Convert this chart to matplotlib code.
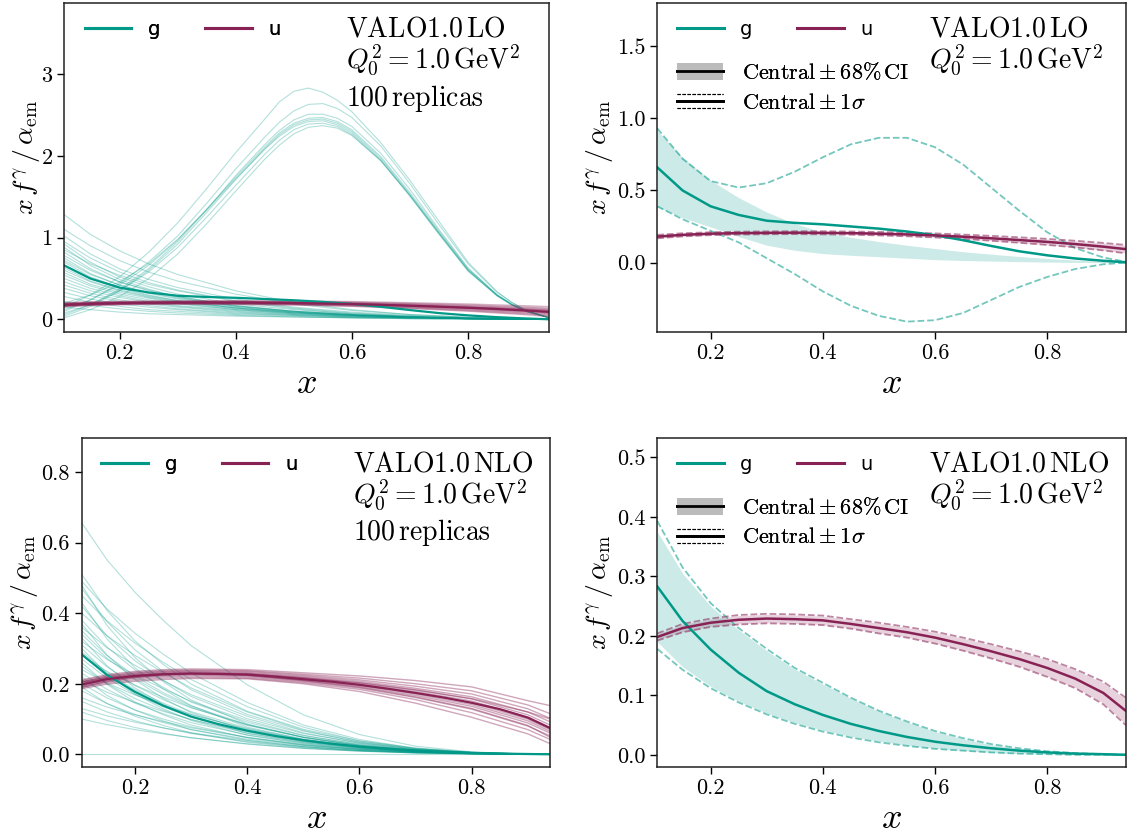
import numpy as np
import matplotlib
matplotlib.use("Agg")
import matplotlib.pyplot as plt
from matplotlib.lines import Line2D
from matplotlib.patches import Rectangle, Patch
from matplotlib.legend_handler import HandlerBase

# ---------------- data ----------------
X18 = [0.105, 0.15, 0.2, 0.25, 0.3, 0.35, 0.4, 0.45, 0.5, 0.55, 0.6, 0.65, 0.7, 0.75, 0.8, 0.85, 0.9, 0.94]
X12 = [0.105, 0.15, 0.2, 0.25, 0.3, 0.4, 0.5, 0.6, 0.7, 0.8, 0.9, 0.94]
XB = [0.105, 0.15, 0.2, 0.25, 0.3, 0.35, 0.4, 0.45, 0.475, 0.5, 0.525, 0.55, 0.575, 0.6, 0.65, 0.7, 0.75, 0.8, 0.85, 0.875, 0.9, 0.94]

# LO central / uncertainties (X18)
g_lo_central = [0.66, 0.50, 0.39, 0.33, 0.29, 0.275, 0.265, 0.25, 0.235, 0.215, 0.19, 0.155, 0.115, 0.078, 0.05, 0.028, 0.012, 0.002]
g_lo_sig_hi = [0.93, 0.72, 0.565, 0.52, 0.55, 0.63, 0.73, 0.82, 0.865, 0.865, 0.80, 0.68, 0.52, 0.36, 0.21, 0.10, 0.035, 0.005]
g_lo_sig_lo = [0.39, 0.30, 0.22, 0.14, 0.03, -0.08, -0.20, -0.30, -0.37, -0.41, -0.40, -0.35, -0.26, -0.17, -0.10, -0.045, -0.012, -0.001]
g_lo_ci_hi = [0.915, 0.73, 0.57, 0.45, 0.35, 0.27, 0.21, 0.175, 0.145, 0.12, 0.097, 0.075, 0.058, 0.042, 0.028, 0.017, 0.008, 0.003]
g_lo_ci_lo = [0.385, 0.31, 0.247, 0.18, 0.12, 0.085, 0.062, 0.05, 0.04, 0.03, 0.02, 0.014, 0.01, 0.006, 0.003, 0.001, 0.0, 0.0]

u_lo_central = [0.180, 0.192, 0.200, 0.204, 0.206, 0.207, 0.206, 0.204, 0.200, 0.195, 0.188, 0.179, 0.168, 0.156, 0.143, 0.128, 0.110, 0.093]
u_lo_sig_hi = [0.192, 0.203, 0.210, 0.214, 0.216, 0.217, 0.217, 0.215, 0.212, 0.208, 0.202, 0.194, 0.185, 0.175, 0.164, 0.151, 0.136, 0.122]
u_lo_sig_lo = [0.168, 0.181, 0.190, 0.194, 0.196, 0.197, 0.195, 0.193, 0.188, 0.182, 0.174, 0.164, 0.151, 0.137, 0.122, 0.105, 0.084, 0.064]
u_lo_ci_hi = [0.191, 0.202, 0.209, 0.213, 0.215, 0.216, 0.216, 0.214, 0.211, 0.207, 0.201, 0.193, 0.184, 0.174, 0.163, 0.150, 0.135, 0.120]
u_lo_ci_lo = [0.169, 0.182, 0.191, 0.195, 0.197, 0.198, 0.196, 0.194, 0.189, 0.183, 0.175, 0.165, 0.152, 0.138, 0.123, 0.106, 0.086, 0.066]

# NLO central / uncertainties (X18)
g_nlo_central = [0.283, 0.225, 0.177, 0.138, 0.107, 0.085, 0.067, 0.052, 0.040, 0.030, 0.022, 0.016, 0.011, 0.007, 0.004, 0.002, 0.001, 0.000]
g_nlo_sig_hi = [0.393, 0.315, 0.255, 0.213, 0.178, 0.146, 0.121, 0.096, 0.074, 0.056, 0.040, 0.028, 0.018, 0.011, 0.006, 0.003, 0.001, 0.0]
g_nlo_sig_lo = [0.178, 0.143, 0.112, 0.088, 0.068, 0.052, 0.039, 0.029, 0.021, 0.015, 0.010, 0.007, 0.004, 0.002, 0.001, 0.0, 0.0, 0.0]
g_nlo_ci_hi = [0.375, 0.305, 0.25, 0.21, 0.175, 0.144, 0.119, 0.095, 0.073, 0.055, 0.039, 0.027, 0.017, 0.011, 0.006, 0.003, 0.001, 0.0]
g_nlo_ci_lo = [0.19, 0.148, 0.115, 0.09, 0.07, 0.054, 0.041, 0.031, 0.023, 0.016, 0.011, 0.007, 0.004, 0.002, 0.001, 0.0, 0.0, 0.0]

u_nlo_central = [0.198, 0.213, 0.222, 0.227, 0.229, 0.228, 0.226, 0.220, 0.213, 0.206, 0.197, 0.186, 0.174, 0.161, 0.146, 0.128, 0.104, 0.074]
u_nlo_sig_hi = [0.204, 0.220, 0.229, 0.235, 0.237, 0.236, 0.234, 0.228, 0.222, 0.215, 0.207, 0.197, 0.186, 0.174, 0.161, 0.144, 0.123, 0.096]
u_nlo_sig_lo = [0.192, 0.206, 0.215, 0.219, 0.221, 0.220, 0.218, 0.212, 0.204, 0.197, 0.187, 0.175, 0.162, 0.148, 0.131, 0.112, 0.085, 0.050]
u_nlo_ci_hi = [0.203, 0.219, 0.228, 0.234, 0.236, 0.235, 0.233, 0.227, 0.221, 0.214, 0.206, 0.196, 0.185, 0.173, 0.160, 0.143, 0.121, 0.094]
u_nlo_ci_lo = [0.193, 0.207, 0.216, 0.220, 0.222, 0.221, 0.219, 0.213, 0.205, 0.198, 0.188, 0.176, 0.163, 0.149, 0.132, 0.113, 0.087, 0.052]

# LO replicas: gluon "bump" replicas (XB)
g_lo_bump_reps = [
    [0.15, 0.30, 0.52, 0.82, 1.18, 1.60, 2.04, 2.45, 2.66, 2.79, 2.83, 2.78, 2.68, 2.54, 2.16, 1.70, 1.20, 0.70, 0.34, 0.21, 0.11, 0.02],
    [0.10, 0.24, 0.44, 0.70, 1.02, 1.42, 1.84, 2.23, 2.41, 2.55, 2.63, 2.64, 2.58, 2.47, 2.12, 1.66, 1.16, 0.68, 0.33, 0.21, 0.11, 0.02],
    [0.06, 0.18, 0.37, 0.62, 0.95, 1.34, 1.76, 2.14, 2.31, 2.44, 2.51, 2.51, 2.46, 2.36, 2.03, 1.59, 1.10, 0.63, 0.30, 0.19, 0.10, 0.02],
    [0.12, 0.24, 0.42, 0.66, 0.97, 1.35, 1.74, 2.11, 2.28, 2.40, 2.46, 2.47, 2.42, 2.32, 1.99, 1.55, 1.08, 0.62, 0.30, 0.18, 0.10, 0.02],
    [0.04, 0.16, 0.35, 0.60, 0.92, 1.31, 1.71, 2.09, 2.26, 2.38, 2.44, 2.45, 2.40, 2.30, 1.97, 1.53, 1.06, 0.60, 0.29, 0.18, 0.10, 0.02],
    [0.20, 0.30, 0.46, 0.68, 0.98, 1.34, 1.72, 2.08, 2.24, 2.36, 2.42, 2.43, 2.38, 2.28, 1.95, 1.51, 1.04, 0.59, 0.29, 0.18, 0.10, 0.02],
    [0.08, 0.18, 0.35, 0.58, 0.88, 1.25, 1.64, 2.02, 2.19, 2.32, 2.39, 2.40, 2.36, 2.26, 1.94, 1.51, 1.05, 0.60, 0.29, 0.18, 0.10, 0.02],
    [0.02, 0.12, 0.28, 0.50, 0.80, 1.17, 1.57, 1.96, 2.13, 2.27, 2.35, 2.37, 2.34, 2.25, 1.94, 1.52, 1.06, 0.61, 0.30, 0.19, 0.11, 0.02],
]
# LO replicas: decaying gluon replicas (X12)
g_lo_decay_reps = [
    [1.28, 1.04, 0.84, 0.68, 0.55, 0.35, 0.21, 0.12, 0.06, 0.025, 0.007, 0.0],
    [1.10, 0.90, 0.72, 0.58, 0.47, 0.31, 0.19, 0.11, 0.06, 0.03, 0.01, 0.0],
    [1.02, 0.80, 0.62, 0.49, 0.39, 0.25, 0.15, 0.09, 0.05, 0.02, 0.005, 0.0],
    [0.95, 0.75, 0.58, 0.45, 0.36, 0.23, 0.14, 0.08, 0.04, 0.02, 0.005, 0.0],
    [0.92, 0.70, 0.52, 0.40, 0.31, 0.19, 0.12, 0.07, 0.04, 0.02, 0.005, 0.0],
    [0.88, 0.66, 0.49, 0.37, 0.28, 0.17, 0.10, 0.06, 0.03, 0.015, 0.004, 0.0],
    [0.85, 0.68, 0.54, 0.43, 0.35, 0.22, 0.13, 0.07, 0.04, 0.02, 0.005, 0.0],
    [0.82, 0.62, 0.46, 0.35, 0.27, 0.16, 0.10, 0.06, 0.03, 0.015, 0.004, 0.0],
    [0.78, 0.60, 0.46, 0.36, 0.28, 0.17, 0.10, 0.06, 0.03, 0.01, 0.003, 0.0],
    [0.75, 0.56, 0.42, 0.32, 0.25, 0.15, 0.09, 0.05, 0.03, 0.01, 0.003, 0.0],
    [0.72, 0.55, 0.42, 0.33, 0.26, 0.16, 0.10, 0.06, 0.03, 0.015, 0.004, 0.0],
    [0.70, 0.52, 0.39, 0.30, 0.23, 0.14, 0.08, 0.05, 0.03, 0.01, 0.003, 0.0],
    [0.66, 0.50, 0.38, 0.29, 0.23, 0.14, 0.09, 0.05, 0.03, 0.01, 0.003, 0.0],
    [0.63, 0.47, 0.36, 0.28, 0.22, 0.14, 0.09, 0.05, 0.03, 0.01, 0.003, 0.0],
    [0.60, 0.46, 0.35, 0.27, 0.21, 0.13, 0.08, 0.05, 0.03, 0.01, 0.003, 0.0],
    [0.57, 0.43, 0.33, 0.26, 0.20, 0.12, 0.08, 0.05, 0.03, 0.01, 0.003, 0.0],
    [0.54, 0.41, 0.31, 0.24, 0.19, 0.12, 0.07, 0.04, 0.02, 0.01, 0.003, 0.0],
    [0.50, 0.38, 0.29, 0.22, 0.17, 0.11, 0.07, 0.04, 0.02, 0.01, 0.002, 0.0],
    [0.46, 0.35, 0.27, 0.21, 0.16, 0.10, 0.06, 0.04, 0.02, 0.01, 0.002, 0.0],
    [0.42, 0.32, 0.24, 0.19, 0.15, 0.09, 0.06, 0.03, 0.02, 0.01, 0.002, 0.0],
    [0.38, 0.29, 0.22, 0.17, 0.13, 0.08, 0.05, 0.03, 0.02, 0.01, 0.002, 0.0],
    [0.33, 0.25, 0.19, 0.15, 0.12, 0.07, 0.05, 0.03, 0.02, 0.01, 0.002, 0.0],
    [0.28, 0.21, 0.16, 0.12, 0.10, 0.06, 0.04, 0.02, 0.01, 0.005, 0.001, 0.0],
    [0.22, 0.17, 0.13, 0.10, 0.08, 0.05, 0.03, 0.02, 0.01, 0.005, 0.001, 0.0],
    [0.15, 0.12, 0.09, 0.07, 0.06, 0.04, 0.03, 0.02, 0.01, 0.005, 0.001, 0.0],
]
# LO replicas: u quark (X12)
u_lo_reps = [
    [0.156, 0.170, 0.180, 0.184, 0.186, 0.184, 0.176, 0.160, 0.134, 0.101, 0.058, 0.035],
    [0.161, 0.174, 0.184, 0.188, 0.190, 0.188, 0.181, 0.166, 0.141, 0.109, 0.068, 0.047],
    [0.166, 0.179, 0.188, 0.192, 0.194, 0.193, 0.186, 0.171, 0.148, 0.118, 0.079, 0.058],
    [0.170, 0.183, 0.192, 0.196, 0.198, 0.197, 0.190, 0.177, 0.154, 0.126, 0.089, 0.070],
    [0.175, 0.188, 0.196, 0.200, 0.202, 0.202, 0.195, 0.182, 0.161, 0.135, 0.100, 0.081],
    [0.180, 0.192, 0.200, 0.204, 0.206, 0.206, 0.200, 0.188, 0.168, 0.143, 0.110, 0.093],
    [0.185, 0.196, 0.204, 0.208, 0.210, 0.210, 0.205, 0.194, 0.175, 0.151, 0.120, 0.105],
    [0.190, 0.201, 0.208, 0.212, 0.214, 0.215, 0.210, 0.199, 0.182, 0.160, 0.131, 0.116],
    [0.194, 0.205, 0.212, 0.216, 0.218, 0.219, 0.214, 0.205, 0.188, 0.168, 0.141, 0.128],
    [0.199, 0.210, 0.216, 0.220, 0.222, 0.224, 0.219, 0.210, 0.195, 0.177, 0.152, 0.139],
    [0.206, 0.216, 0.222, 0.226, 0.228, 0.230, 0.226, 0.219, 0.205, 0.189, 0.167, 0.157],
    [0.170, 0.186, 0.198, 0.205, 0.209, 0.211, 0.206, 0.193, 0.170, 0.140, 0.100, 0.080],
    [0.188, 0.197, 0.203, 0.205, 0.206, 0.204, 0.197, 0.186, 0.170, 0.150, 0.125, 0.112],
]

# NLO replicas: gluon (X12)
g_nlo_reps = [
    [0.656, 0.551, 0.459, 0.380, 0.308, 0.197, 0.112, 0.056, 0.023, 0.007, 0.001, 0.0],
    [0.51, 0.408, 0.321, 0.255, 0.199, 0.122, 0.071, 0.038, 0.018, 0.006, 0.001, 0.0],
    [0.49, 0.412, 0.343, 0.284, 0.230, 0.147, 0.083, 0.042, 0.017, 0.005, 0.001, 0.0],
    [0.48, 0.365, 0.274, 0.206, 0.154, 0.086, 0.048, 0.024, 0.011, 0.004, 0.0, 0.0],
    [0.47, 0.376, 0.296, 0.235, 0.183, 0.113, 0.066, 0.035, 0.016, 0.006, 0.001, 0.0],
    [0.45, 0.378, 0.315, 0.261, 0.212, 0.135, 0.077, 0.038, 0.016, 0.005, 0.001, 0.0],
    [0.43, 0.327, 0.245, 0.185, 0.138, 0.077, 0.043, 0.022, 0.009, 0.003, 0.0, 0.0],
    [0.42, 0.336, 0.265, 0.210, 0.164, 0.101, 0.059, 0.032, 0.015, 0.005, 0.001, 0.0],
    [0.40, 0.336, 0.280, 0.232, 0.188, 0.120, 0.068, 0.034, 0.014, 0.004, 0.001, 0.0],
    [0.38, 0.304, 0.239, 0.190, 0.148, 0.091, 0.053, 0.029, 0.013, 0.005, 0.001, 0.0],
    [0.37, 0.281, 0.211, 0.159, 0.118, 0.067, 0.037, 0.019, 0.008, 0.003, 0.0, 0.0],
    [0.36, 0.302, 0.252, 0.209, 0.169, 0.108, 0.061, 0.031, 0.013, 0.004, 0.001, 0.0],
    [0.35, 0.280, 0.221, 0.175, 0.137, 0.084, 0.049, 0.026, 0.012, 0.004, 0.001, 0.0],
    [0.34, 0.272, 0.214, 0.170, 0.133, 0.082, 0.048, 0.026, 0.012, 0.004, 0.001, 0.0],
    [0.33, 0.251, 0.188, 0.142, 0.106, 0.059, 0.033, 0.017, 0.007, 0.003, 0.0, 0.0],
    [0.32, 0.269, 0.224, 0.186, 0.150, 0.096, 0.054, 0.027, 0.011, 0.004, 0.001, 0.0],
    [0.31, 0.248, 0.195, 0.155, 0.121, 0.074, 0.043, 0.023, 0.011, 0.004, 0.001, 0.0],
    [0.30, 0.228, 0.171, 0.129, 0.096, 0.054, 0.030, 0.015, 0.007, 0.002, 0.0, 0.0],
    [0.29, 0.232, 0.183, 0.145, 0.113, 0.070, 0.041, 0.022, 0.010, 0.003, 0.001, 0.0],
    [0.28, 0.235, 0.196, 0.162, 0.132, 0.084, 0.048, 0.024, 0.010, 0.003, 0.001, 0.0],
    [0.27, 0.216, 0.170, 0.135, 0.105, 0.065, 0.038, 0.020, 0.009, 0.003, 0.001, 0.0],
    [0.26, 0.198, 0.148, 0.112, 0.083, 0.047, 0.026, 0.013, 0.006, 0.002, 0.0, 0.0],
    [0.25, 0.200, 0.158, 0.125, 0.098, 0.060, 0.035, 0.019, 0.009, 0.003, 0.001, 0.0],
    [0.24, 0.202, 0.168, 0.139, 0.113, 0.072, 0.041, 0.020, 0.008, 0.003, 0.0, 0.0],
    [0.23, 0.184, 0.145, 0.115, 0.090, 0.055, 0.032, 0.017, 0.008, 0.003, 0.0, 0.0],
    [0.22, 0.167, 0.125, 0.095, 0.070, 0.040, 0.022, 0.011, 0.005, 0.002, 0.0, 0.0],
    [0.21, 0.176, 0.147, 0.122, 0.099, 0.063, 0.036, 0.018, 0.007, 0.002, 0.0, 0.0],
    [0.20, 0.160, 0.126, 0.100, 0.078, 0.048, 0.028, 0.015, 0.007, 0.002, 0.0, 0.0],
    [0.19, 0.144, 0.108, 0.082, 0.061, 0.034, 0.019, 0.010, 0.004, 0.002, 0.0, 0.0],
    [0.18, 0.144, 0.113, 0.090, 0.070, 0.043, 0.025, 0.014, 0.006, 0.002, 0.0, 0.0],
    [0.16, 0.134, 0.112, 0.093, 0.075, 0.048, 0.027, 0.014, 0.006, 0.002, 0.0, 0.0],
    [0.15, 0.120, 0.095, 0.075, 0.059, 0.036, 0.021, 0.011, 0.005, 0.002, 0.0, 0.0],
    [0.13, 0.109, 0.091, 0.075, 0.061, 0.039, 0.022, 0.011, 0.005, 0.001, 0.0, 0.0],
    [0.12, 0.096, 0.076, 0.060, 0.047, 0.029, 0.017, 0.009, 0.004, 0.001, 0.0, 0.0],
    [0.10, 0.084, 0.070, 0.058, 0.047, 0.030, 0.017, 0.009, 0.004, 0.001, 0.0, 0.0],
    [0.0, 0.0, 0.0, 0.0, 0.0, 0.0, 0.0, 0.0, 0.0, 0.0, 0.0, 0.0],
]
# NLO replicas: u quark (X12)
u_nlo_reps = [
    [0.186, 0.199, 0.207, 0.212, 0.215, 0.214, 0.200, 0.178, 0.145, 0.105, 0.058, 0.030],
    [0.189, 0.203, 0.211, 0.216, 0.218, 0.216, 0.203, 0.184, 0.155, 0.118, 0.070, 0.042],
    [0.192, 0.206, 0.215, 0.220, 0.222, 0.219, 0.206, 0.188, 0.161, 0.128, 0.080, 0.052],
    [0.194, 0.209, 0.218, 0.223, 0.225, 0.222, 0.209, 0.192, 0.167, 0.136, 0.089, 0.060],
    [0.196, 0.211, 0.220, 0.225, 0.227, 0.224, 0.211, 0.195, 0.171, 0.141, 0.095, 0.065],
    [0.198, 0.213, 0.222, 0.227, 0.229, 0.226, 0.213, 0.197, 0.174, 0.146, 0.100, 0.070],
    [0.200, 0.215, 0.224, 0.229, 0.231, 0.228, 0.216, 0.200, 0.178, 0.151, 0.106, 0.076],
    [0.202, 0.217, 0.226, 0.231, 0.233, 0.230, 0.218, 0.203, 0.182, 0.157, 0.112, 0.083],
    [0.204, 0.219, 0.228, 0.233, 0.235, 0.232, 0.221, 0.207, 0.187, 0.163, 0.120, 0.092],
    [0.206, 0.221, 0.230, 0.235, 0.237, 0.235, 0.224, 0.211, 0.193, 0.171, 0.129, 0.102],
    [0.208, 0.223, 0.232, 0.237, 0.239, 0.237, 0.227, 0.216, 0.200, 0.180, 0.140, 0.115],
    [0.211, 0.226, 0.235, 0.240, 0.242, 0.240, 0.231, 0.222, 0.209, 0.191, 0.152, 0.138],
    [0.190, 0.207, 0.218, 0.225, 0.229, 0.228, 0.217, 0.203, 0.183, 0.158, 0.120, 0.100],
    [0.205, 0.217, 0.224, 0.228, 0.229, 0.224, 0.209, 0.190, 0.163, 0.130, 0.082, 0.048],
]

x_ticks = [0.2, 0.4, 0.6, 0.8]
titles_lo = [r"$\mathrm{VALO1.0\,LO}$", r"$Q_0^2 = 1.0\,\mathrm{GeV}^2$"]
titles_nlo = [r"$\mathrm{VALO1.0\,NLO}$", r"$Q_0^2 = 1.0\,\mathrm{GeV}^2$"]
replica_text = r"$100\,\mathrm{replicas}$"
ci_labels = [r"$\mathrm{Central} \pm 68\%\,\mathrm{CI}$", r"$\mathrm{Central} \pm 1\sigma$"]

# ---------------- style ----------------
plt.rcParams["mathtext.fontset"] = "cm"
plt.rcParams["font.family"] = "serif"
plt.rcParams["font.serif"] = ["cmr10"]
plt.rcParams["axes.unicode_minus"] = False
plt.rcParams["axes.linewidth"] = 1.1
plt.rcParams["axes.edgecolor"] = "#222222"

TEAL = "#009988"
WINE = "#882255"
TICK_FS = 16
LABEL_FS = 20
TEXT_FS = 20

fig = plt.figure(figsize=(11.29, 8.36), dpi=100)
ax_tl = fig.add_axes([0.0570, 0.6032, 0.4296, 0.3932])
ax_tr = fig.add_axes([0.5822, 0.6032, 0.4149, 0.3932])
ax_bl = fig.add_axes([0.0724, 0.0829, 0.4150, 0.3935])
ax_br = fig.add_axes([0.5822, 0.0829, 0.4149, 0.3935])


class BandLineHandler(HandlerBase):
    def create_artists(self, legend, orig_handle, xdescent, ydescent, width, height, fontsize, trans):
        x0, y0 = -xdescent, -ydescent
        rect = Rectangle((x0, y0 - 0.05 * height), width, 1.1 * height,
                         facecolor="#bbbbbb", edgecolor="none", transform=trans)
        line = Line2D([x0, x0 + width], [y0 + height / 2] * 2, color="k", lw=2.0, transform=trans)
        return [rect, line]


class TripleLineHandler(HandlerBase):
    def create_artists(self, legend, orig_handle, xdescent, ydescent, width, height, fontsize, trans):
        x0, y0 = -xdescent, -ydescent
        yc = y0 + height / 2
        d = 0.45 * height
        top = Line2D([x0, x0 + width], [yc + d] * 2, color="k", lw=0.8, ls=(0, (3, 1.5)), transform=trans)
        mid = Line2D([x0, x0 + width], [yc] * 2, color="k", lw=2.0, transform=trans)
        bot = Line2D([x0, x0 + width], [yc - d] * 2, color="k", lw=0.8, ls=(0, (3, 1.5)), transform=trans)
        return [top, mid, bot]


def style_axis(ax, ylim, ylabel_x):
    ax.set_xlim(0.105, 0.94)
    ax.set_ylim(*ylim)
    ax.set_xticks(x_ticks)
    ax.tick_params(labelsize=TICK_FS, length=5, width=1.0, direction="out")
    ax.set_xlabel(r"$x$", fontsize=26, labelpad=4)
    ax.set_ylabel(r"$x\,f^{\gamma}\,/\,\alpha_{\mathrm{em}}$", fontsize=LABEL_FS)
    ax.yaxis.set_label_coords(ylabel_x, 0.53)


def flavour_legend(ax):
    handles = [Line2D([], [], color=TEAL, lw=2.2), Line2D([], [], color=WINE, lw=2.2)]
    leg = ax.legend(handles, ["g", "u"], ncol=2, loc="upper left", bbox_to_anchor=(0.042, 0.948),
                    frameon=False, borderpad=0, borderaxespad=0, handlelength=2.4,
                    handletextpad=0.85, columnspacing=2.3,
                    prop={"family": "DejaVu Sans", "size": 14})
    ax.add_artist(leg)


def text_block(ax, lines):
    ys = [0.898, 0.800, 0.688]
    for t, y in zip(lines, ys):
        ax.text(0.58, y, t, transform=ax.transAxes, fontsize=TEXT_FS, va="baseline", ha="left")


def ci_legend(ax):
    h1 = Patch()
    h2 = Patch(facecolor="none")
    leg = ax.legend([h1, h2], ci_labels, loc="upper left", bbox_to_anchor=(0.042, 0.822),
                    frameon=False, borderpad=0, borderaxespad=0, handlelength=2.07,
                    handletextpad=0.85, labelspacing=0.42, fontsize=16,
                    handler_map={h1: BandLineHandler(), h2: TripleLineHandler()})
    ax.add_artist(leg)


# ---------- top-left: LO replicas ----------
for r in g_lo_decay_reps:
    ax_tl.plot(X12, r, color=TEAL, lw=0.8, alpha=0.3)
for r in g_lo_bump_reps:
    ax_tl.plot(XB, r, color=TEAL, lw=0.8, alpha=0.3)
for r in u_lo_reps:
    ax_tl.plot(X12, r, color=WINE, lw=1.0, alpha=0.35)
ax_tl.plot(X18, g_lo_central, color=TEAL, lw=1.6)
ax_tl.plot(X18, u_lo_central, color=WINE, lw=1.6)
style_axis(ax_tl, (-0.15, 3.87), -0.047)
ax_tl.set_yticks([0, 1, 2, 3])
flavour_legend(ax_tl)
text_block(ax_tl, titles_lo + [replica_text])

# ---------- top-right: LO bands ----------
ax_tr.fill_between(X18, g_lo_ci_lo, g_lo_ci_hi, color=TEAL, alpha=0.2, lw=0)
ax_tr.fill_between(X18, u_lo_ci_lo, u_lo_ci_hi, color=WINE, alpha=0.2, lw=0)
ax_tr.plot(X18, g_lo_sig_hi, color=TEAL, alpha=0.55, lw=1.3, ls="--")
ax_tr.plot(X18, g_lo_sig_lo, color=TEAL, alpha=0.55, lw=1.3, ls="--")
ax_tr.plot(X18, u_lo_sig_hi, color=WINE, alpha=0.55, lw=1.3, ls="--")
ax_tr.plot(X18, u_lo_sig_lo, color=WINE, alpha=0.55, lw=1.3, ls="--")
ax_tr.plot(X18, g_lo_central, color=TEAL, lw=1.8)
ax_tr.plot(X18, u_lo_central, color=WINE, lw=1.8)
style_axis(ax_tr, (-0.48, 1.80), -0.09)
ax_tr.set_yticks([0.0, 0.5, 1.0, 1.5])
flavour_legend(ax_tr)
ci_legend(ax_tr)
text_block(ax_tr, titles_lo)

# ---------- bottom-left: NLO replicas ----------
for r in g_nlo_reps:
    ax_bl.plot(X12, r, color=TEAL, lw=0.8, alpha=0.3)
for r in u_nlo_reps:
    ax_bl.plot(X12, r, color=WINE, lw=1.0, alpha=0.4)
ax_bl.plot(X18, g_nlo_central, color=TEAL, lw=1.6)
ax_bl.plot(X18, u_nlo_central, color=WINE, lw=1.6)
style_axis(ax_bl, (-0.035, 0.897), -0.09)
ax_bl.set_yticks([0.0, 0.2, 0.4, 0.6, 0.8])
flavour_legend(ax_bl)
text_block(ax_bl, titles_nlo + [replica_text])

# ---------- bottom-right: NLO bands ----------
ax_br.fill_between(X18, g_nlo_ci_lo, g_nlo_ci_hi, color=TEAL, alpha=0.2, lw=0)
ax_br.fill_between(X18, u_nlo_ci_lo, u_nlo_ci_hi, color=WINE, alpha=0.2, lw=0)
ax_br.plot(X18, g_nlo_sig_hi, color=TEAL, alpha=0.55, lw=1.3, ls="--")
ax_br.plot(X18, g_nlo_sig_lo, color=TEAL, alpha=0.55, lw=1.3, ls="--")
ax_br.plot(X18, u_nlo_sig_hi, color=WINE, alpha=0.55, lw=1.3, ls="--")
ax_br.plot(X18, u_nlo_sig_lo, color=WINE, alpha=0.55, lw=1.3, ls="--")
ax_br.plot(X18, g_nlo_central, color=TEAL, lw=1.8)
ax_br.plot(X18, u_nlo_central, color=WINE, lw=1.8)
style_axis(ax_br, (-0.02, 0.533), -0.09)
ax_br.set_yticks([0.0, 0.1, 0.2, 0.3, 0.4, 0.5])
flavour_legend(ax_br)
ci_legend(ax_br)
text_block(ax_br, titles_nlo)

fig.savefig("out.png", dpi=100)
